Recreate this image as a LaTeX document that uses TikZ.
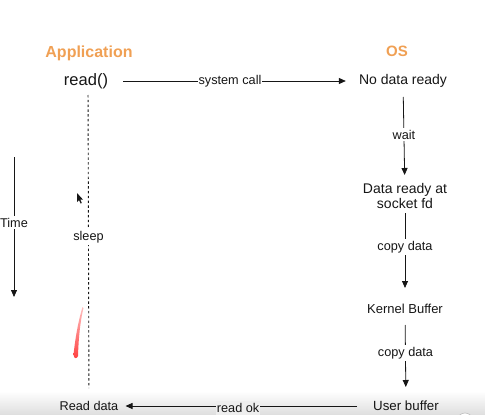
\documentclass[tikz,border=0pt]{standalone}
\usepackage{fontspec}
\setmainfont{Liberation Sans}
\usetikzlibrary{arrows.meta}
\definecolor{apporange}{RGB}{240,160,84}
\definecolor{ink}{RGB}{22,22,22}
\definecolor{barfill}{RGB}{238,238,238}
\begin{document}
\begin{tikzpicture}[x=1pt,y=-1pt,
  every node/.style={text=ink, inner sep=0pt},
  lbl/.style={font=\fontsize{12.7}{15}\selectfont, fill=white, inner xsep=1pt, inner ysep=2pt},
  state/.style={font=\fontsize{14}{15}\selectfont, align=center},
  head/.style={font=\bfseries\fontsize{16}{19}\selectfont, text=apporange},
  conn/.style={draw=ink, line width=0.8pt, -{Triangle[length=7pt,width=6pt]}},
  plain/.style={draw=ink, line width=0.8pt},
  dots/.style={draw=ink, line width=0.9pt, dash pattern=on 2.4pt off 2.4pt},
]
\useasboundingbox (0,0) rectangle (485,415);
% bottom bar of the screenshot
\shade[top color=white, bottom color=black!13] (0,391) rectangle (485,415);
\filldraw[fill=white, draw=black!25, line width=0.6pt] (465,421) circle (8);
% red mark
\shade[top color=red!25!white, bottom color=red!75!white]
  (82.5,307) .. controls (78,322) and (75,340) .. (73.5,355)
  .. controls (74,359) and (77,359) .. (78,356)
  .. controls (78.5,340) and (80,322) .. (83.5,308) -- cycle;
% cursor
\fill[ink] (77,193) -- (77,202) -- (79,200) -- (80.6,203.5) -- (81.8,203) -- (80.3,199.6) -- (83,199.6) -- cycle;

% headings
\node[head] (app) at (89,53) {Application};
\node[head, font=\bfseries\fontsize{15}{18}\selectfont] (os) at (397,51) {OS};

% application column
\node[font=\fontsize{16.5}{19}\selectfont] (read) at (86,81) {read()};
\node[font=\fontsize{12.7}{15}\selectfont] (rdata) at (89,406) {Read data};

% OS column
\node[state] (nodata) at (403,81) {No data ready};
\node[state] (ready) at (405,195.5) {Data ready at\\socket fd};
\node[state, font=\fontsize{13}{15}\selectfont] (kernel) at (405,309) {Kernel Buffer};
\node[state, font=\fontsize{13.3}{15}\selectfont] (user) at (406,406) {User buffer};

% time axis
\coordinate (t0) at (14,157);
\coordinate (t1) at (14,297);
\draw[conn] (t0) -- node[lbl, pos=0.47] {Time} (t1);

% sleep (dotted)
\draw[dots, shorten <=14pt, shorten >=18pt] ([xshift=2pt]read.center) -- node[lbl, pos=0.48] {sleep} (rdata.center);

% system call
\draw[conn, shorten <=15pt, shorten >=13pt] (read) -- node[lbl, pos=0.486] {system call} (nodata);

% OS arrows
\draw[conn, shorten <=16pt, shorten >=20.5pt] (nodata.center) -- node[lbl, pos=0.47] {wait} (ready.center);
\draw[conn, shorten <=17.5pt, shorten >=21pt] (ready.center) -- node[lbl, pos=0.454] {copy data} (kernel.center);
\draw[conn, shorten <=16pt, shorten >=19pt] (kernel.center) -- node[lbl, pos=0.454] {copy data} (user.center);

% read ok
\draw[conn, shorten <=16pt, shorten >=7pt] (user) -- node[lbl, fill=barfill, pos=0.53, yshift=-2pt] {read ok} (rdata);
\end{tikzpicture}
\end{document}
